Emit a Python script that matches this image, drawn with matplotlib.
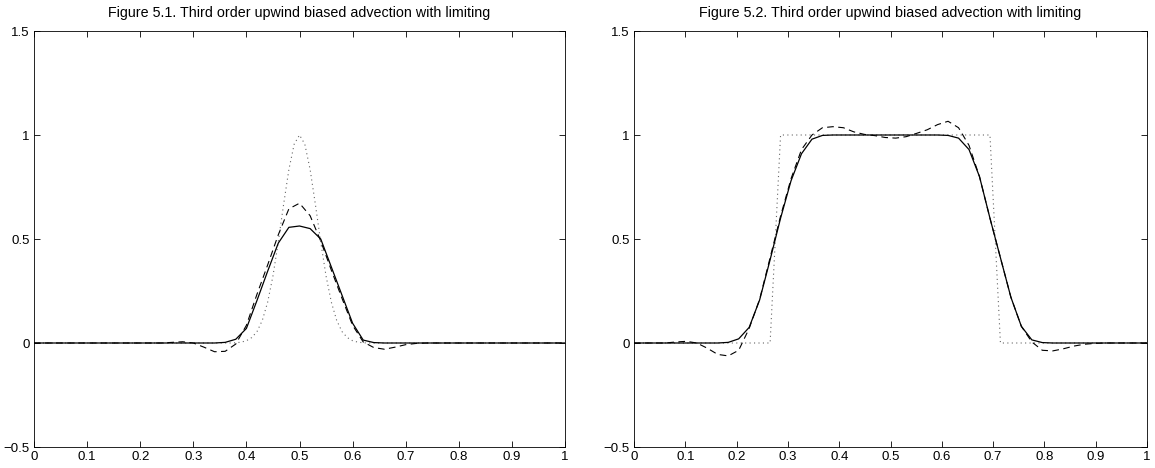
import numpy as np
import matplotlib
matplotlib.use("Agg")
import matplotlib.pyplot as plt

plt.rcParams['font.family'] = ['Liberation Sans', 'DejaVu Sans']

titles = ["Figure 5.1. Third order upwind biased advection with limiting",
          "Figure 5.2. Third order upwind biased advection with limiting"]
xticks = [0, 0.1, 0.2, 0.3, 0.4, 0.5, 0.6, 0.7, 0.8, 0.9, 1]
xticklabels = ["0", "0.1", "0.2", "0.3", "0.4", "0.5", "0.6", "0.7", "0.8", "0.9", "1"]
yticks = [-0.5, 0, 0.5, 1, 1.5]
yticklabels = ["\u22120.5", "0", "0.5", "1", "1.5"]

# ---- Figure 5.1 : Gaussian pulse (grid dx = 0.02) ----
n1 = 51
solid1 = [0.0] * 18 + [0.003, 0.018, 0.07, 0.205, 0.345, 0.48, 0.556, 0.5625, 0.55,
                       0.50, 0.365, 0.23, 0.095, 0.014, 0.002] + [0.0] * 18
dashed1 = [0.0] * 13 + [0.003, 0.006, 0.0, -0.02, -0.042, -0.04, -0.005, 0.085, 0.235,
                        0.375, 0.52, 0.645, 0.672, 0.612, 0.49, 0.35, 0.215, 0.085,
                        0.005, -0.022, -0.03, -0.02, -0.008, -0.002] + [0.0] * 14
exact1_x = [0.0, 0.37, 0.38, 0.39, 0.40, 0.41, 0.42, 0.43, 0.44, 0.45, 0.46, 0.47, 0.48,
            0.49, 0.50, 0.51, 0.52, 0.53, 0.54, 0.55, 0.56, 0.57, 0.58, 0.59, 0.60,
            0.61, 0.62, 0.63, 1.0]
exact1_u = [0.0, 0.0, 0.001, 0.004, 0.011, 0.026, 0.055, 0.109, 0.196, 0.322, 0.485,
            0.665, 0.834, 0.956, 1.0, 0.956, 0.834, 0.665, 0.485, 0.322, 0.196, 0.109,
            0.055, 0.026, 0.011, 0.004, 0.001, 0.0, 0.0]

# ---- Figure 5.2 : square wave (50 points) ----
n2 = 50
solid2 = [0.0] * 9 + [0.003, 0.02, 0.075, 0.207, 0.40, 0.60, 0.78, 0.91, 0.98, 0.998] + \
         [1.0] * 11 + [0.998, 0.985, 0.93, 0.80, 0.60, 0.41, 0.22, 0.08, 0.015, 0.002] + [0.0] * 10
dashed2 = [0.0, 0.0, 0.0, 0.0, 0.005, 0.008, 0.0, -0.025, -0.055, -0.062, -0.035, 0.07,
           0.21, 0.41, 0.61, 0.79, 0.93, 1.0, 1.035, 1.04, 1.035, 1.015, 1.003, 0.997,
           0.988, 0.985, 0.992, 1.008, 1.025, 1.05, 1.066, 1.035, 0.95, 0.80, 0.60, 0.41,
           0.22, 0.08, 0.005, -0.035, -0.038, -0.028, -0.015, -0.006, -0.002,
           0.0, 0.0, 0.0, 0.0, 0.0]
exact2 = [0.0] * 14 + [1.0] * 21 + [0.0] * 15

fig = plt.figure(figsize=(11.55, 4.68), dpi=100)
ax1 = fig.add_axes([34 / 1155, 21 / 468, 531 / 1155, 416 / 468])
ax2 = fig.add_axes([634 / 1155, 21 / 468, 513 / 1155, 416 / 468])

x1 = np.linspace(0, 1, n1)
x2 = np.linspace(0, 1, n2)

ax1.plot(exact1_x, exact1_u, color='#666666', lw=0.8, linestyle=(0, (1, 3)))
ax1.plot(x1, dashed1, color='k', lw=0.8, linestyle=(0, (6, 4)))
ax1.plot(x1, solid1, color='k', lw=0.9)

ax2.plot(x2, exact2, color='#666666', lw=0.8, linestyle=(0, (1, 3)))
ax2.plot(x2, dashed2, color='k', lw=0.8, linestyle=(0, (6, 4)))
ax2.plot(x2, solid2, color='k', lw=0.9)

for ax, t in zip((ax1, ax2), titles):
    ax.set_xlim(0, 1)
    ax.set_ylim(-0.5, 1.5)
    ax.set_xticks(xticks)
    ax.set_xticklabels(xticklabels)
    ax.set_yticks(yticks)
    ax.set_yticklabels(yticklabels)
    ax.tick_params(direction='in', top=True, right=True, length=4, width=0.6,
                   labelsize=9.5, pad=3)
    for s in ax.spines.values():
        s.set_linewidth(0.6)
    ax.set_title(t, fontsize=10.3, pad=10)

fig.savefig("out.png", dpi=100)
